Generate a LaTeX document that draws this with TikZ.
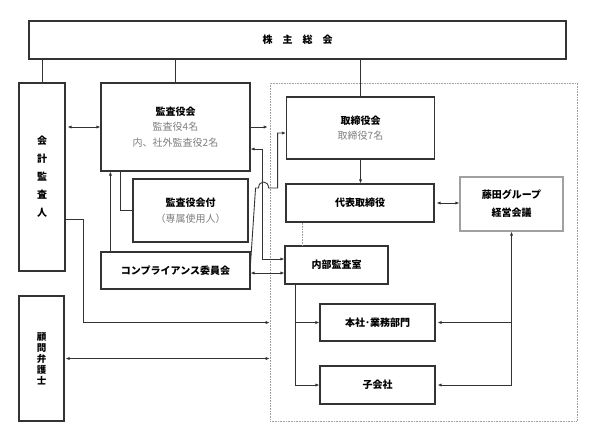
\documentclass[tikz,border=0pt]{standalone}
\usepackage{fontspec}
\setmainfont{Noto Sans CJK JP}
\usetikzlibrary{arrows.meta,calc}
\definecolor{linec}{HTML}{333333}
\definecolor{subc}{HTML}{808080}
\definecolor{lightbox}{HTML}{A0A0A0}
\begin{document}
\begin{tikzpicture}[x=1pt,y=-1pt,
  box/.style={draw=linec,line width=1.1pt,inner sep=0pt,align=center,fill=white,
    font=\fontsize{10}{15.5}\selectfont\bfseries},
  conn/.style={draw=linec,line width=0.9pt},
  tip/.style={-{Latex[length=4pt,width=3.2pt]}},
  tipb/.style={{Latex[length=4pt,width=3.2pt]}-{Latex[length=4pt,width=3.2pt]}},
  tipr/.style={{Latex[length=4pt,width=3.2pt]}-}]
\useasboundingbox[fill=white] (0,0) rectangle (596,442);
% dotted group frame
\node[draw=lightbox,densely dotted,line width=0.6pt,minimum width=307pt,minimum height=338pt,inner sep=0pt] (grp) at (423.5,252) {};
% boxes
\node[box,minimum width=537pt,minimum height=38pt] (shm) at (297.5,40) {株　主　総　会};
\node[box,minimum width=46pt,minimum height=188pt,font=\fontsize{10}{18}\selectfont\bfseries] (kaikei) at (42,177) {会\\計\\監\\査\\人};
\node[box,minimum width=149pt,minimum height=88pt] (kansa) at (175.5,127) {監査役会\\{\color{subc}\mdseries 監査役4名}\\{\color{subc}\mdseries 内、社外監査役2名}};
\node[box,minimum width=115pt,minimum height=63pt] (tsuki) at (190.5,210.5) {監査役会付\\{\color{subc}\mdseries （専属使用人）}};
\node[box,minimum width=149pt,minimum height=37pt] (comp) at (175.5,270.5) {コンプライアンス委員会};
\node[box,minimum width=148pt,minimum height=62pt] (tori) at (360.5,128) {取締役会\\{\color{subc}\mdseries 取締役7名}};
\node[box,minimum width=148pt,minimum height=38pt] (daihyo) at (360,203) {代表取締役};
\node[box,draw=lightbox,minimum width=103pt,minimum height=54pt,font=\fontsize{10}{18}\selectfont\bfseries] (fujita) at (511.5,204) {藤田グループ\\経営会議};
\node[box,minimum width=103pt,minimum height=38pt] (naibu) at (336.5,265) {内部監査室};
\node[box,minimum width=115pt,minimum height=37pt] (honsha) at (377.5,322.5) {本社･業務部門};
\node[box,minimum width=115pt,minimum height=38pt] (ko) at (377.5,385) {子会社};
\node[box,minimum width=45pt,minimum height=125pt,font=\fontsize{9.5}{11}\selectfont\bfseries] (komon) at (41.5,358.5) {顧\\問\\弁\\護\\士};
% lines from shareholders meeting
\draw[conn] (kaikei.north) -- (kaikei.north |- shm.south);
\draw[conn] (kansa.north) -- (kansa.north |- shm.south);
\draw[conn] (tori.north) -- (tori.north |- shm.south);
% auditor <-> audit board
\draw[conn,tipb,shorten <=2pt] (kaikei.east |- kansa.west) -- (kansa.west);
% audit board -> group frame
\draw[conn,tip,shorten >=2pt] (kansa.east) -- (kansa.east -| grp.west);
% audit board -- staff
\draw[conn] (tsuki.west) -| ($(tsuki.west |- kansa.south)+(-12,0)$);
% compliance -> audit board
\draw[conn,tip] ($(comp.north west)+(10,0)$) -- ($(kansa.south west)+(10,0)$);
% board -> representative
\draw[conn,tip] (tori.south) -- (tori.south |- daihyo.north);
% representative <-> Fujita
\draw[conn,tipb,shorten <=2pt] (daihyo.east) -- (daihyo.east -| fujita.west);
% representative .. internal audit
\draw[draw=lightbox,densely dotted,line width=0.6pt] ($(daihyo.south west)+(17,0)$) -- ($(daihyo.south west |- naibu.north)+(17,0)$);
% internal audit -> departments
\draw[conn,tip] ($(naibu.south west)+(11,0)$) |- (ko.west);
\draw[conn,tip] ($(naibu.south west |- honsha.west)+(11,0)$) -- (honsha.west);
% departments -> Fujita
\draw[conn,tip] (ko.east -| fujita.south) -- (fujita.south);
\draw[conn,tipr,shorten <=2pt] (ko.east) -- (ko.east -| fujita.south);
\draw[conn,tipr,shorten <=2pt] (honsha.east) -- (honsha.east -| fujita.south);
% auditor -> group frame
\draw[conn,tip] ($(kaikei.east)+(0,42)$) -| ($(kaikei.east |- honsha.west)+(18,0)$) -- (honsha.west -| grp.west);
% lawyer <-> group frame
\draw[conn,tipb,shorten <=1pt] (komon.east) -- (komon.east -| grp.west);
% audit board <-> internal audit
\draw[conn,tipb] ($(kansa.east)+(0,22)$) -| ($(naibu.west)+(-22,-6)$) -- ($(naibu.west)+(0,-6)$);
% compliance -> board (with hop)
\coordinate (b0) at ($(comp.east)+(0,-7.5)$);
\coordinate (b2) at ($(b0)+(5,-75)$);
\coordinate (b1) at ($(tori.west)+(0,5)$);
\draw[conn,tip] (b0) -- (b2) -- ($(b2)+(3,0)$) .. controls ($(b2)+(3,-8)$) and ($(b2)+(13,-8)$) .. ($(b2)+(13,0)$) -- ($(b2)+(22,0)$) |- (b1);
% compliance <-> internal audit
\draw[conn,tipb] ($(comp.east)+(0,2.5)$) -- ($(comp.east -| naibu.west)+(0,2.5)$);
\end{tikzpicture}
\end{document}
